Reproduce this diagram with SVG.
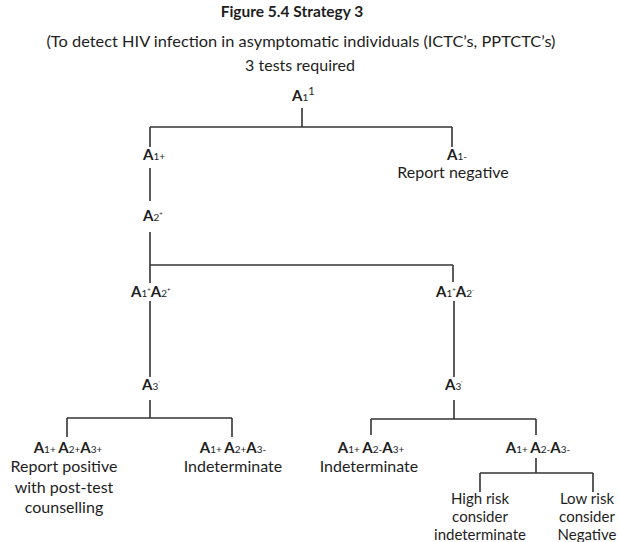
<svg xmlns="http://www.w3.org/2000/svg" width="619" height="542" viewBox="0 0 619 542">
<style>
text{font-family:Lato,"Open Sans","Liberation Sans",sans-serif;fill:#1e1e1e;font-size:16px}
.t{font-weight:bold;font-size:15.5px}
.a{font-weight:bold;font-size:15px}
.s{font-size:10px;font-weight:normal}
.m{text-anchor:middle}
.r{font-size:15px}
.c line{stroke:#333;stroke-width:1.6;fill:none}
</style>
<rect width="619" height="542" fill="#fff"/>
<g id="title">
<text class="t m" x="292" y="17">Figure 5.4 Strategy 3</text>
<text class="m" x="301" y="47" textLength="509" lengthAdjust="spacingAndGlyphs">(To detect HIV infection in asymptomatic individuals (ICTC’s, PPTCTC’s)</text>
<text class="m" x="300" y="71">3 tests required</text>
</g>
<g class="c" id="connectors">
<line x1="302" y1="108" x2="302" y2="127"/>
<line x1="150" y1="127" x2="452" y2="127"/>
<line x1="150" y1="127" x2="150" y2="147"/>
<line x1="452" y1="127" x2="452" y2="147"/>
<line x1="150" y1="168" x2="150" y2="201"/>
<line x1="150" y1="232" x2="150" y2="283"/>
<line x1="150" y1="265" x2="453" y2="265"/>
<line x1="453" y1="265" x2="453" y2="282"/>
<line x1="150" y1="301" x2="150" y2="377"/>
<line x1="454" y1="301" x2="454" y2="377"/>
<line x1="150" y1="400" x2="150" y2="418"/>
<line x1="67" y1="418" x2="232" y2="418"/>
<line x1="67" y1="418" x2="67" y2="437"/>
<line x1="232" y1="418" x2="232" y2="437"/>
<line x1="454" y1="400" x2="454" y2="419"/>
<line x1="371" y1="419" x2="536" y2="419"/>
<line x1="371" y1="419" x2="371" y2="435"/>
<line x1="536" y1="419" x2="536" y2="435"/>
<line x1="536" y1="458" x2="536" y2="473"/>
<line x1="480" y1="473" x2="593" y2="473"/>
<line x1="480" y1="473" x2="480" y2="492"/>
<line x1="593" y1="473" x2="593" y2="492"/>
</g>
<g id="n-a1">
<text x="292" y="101"><tspan class="a">A</tspan><tspan class="s">1</tspan><tspan font-size="11" dy="-6">1</tspan></text>
</g>
<g id="n-a1pos">
<text x="143" y="160"><tspan class="a">A</tspan><tspan class="s">1+</tspan></text>
</g>
<g id="n-a1neg">
<text x="447" y="160"><tspan class="a">A</tspan><tspan class="s">1-</tspan></text>
<text class="m" x="453" y="178">Report negative</text>
</g>
<g id="n-a2">
<text x="143" y="221"><tspan class="a">A</tspan><tspan class="s">2</tspan><tspan font-size="6" dy="-5">+</tspan></text>
</g>
<g id="n-a1a2pos">
<text x="131" y="297"><tspan class="a">A</tspan><tspan class="s">1</tspan><tspan font-size="6" dy="-5">+</tspan><tspan class="a" dy="5">A</tspan><tspan class="s">2</tspan><tspan font-size="6" dy="-5">+</tspan></text>
</g>
<g id="n-a1a2neg">
<text x="436" y="297"><tspan class="a">A</tspan><tspan class="s">1</tspan><tspan font-size="6" dy="-5">+</tspan><tspan class="a" dy="5">A</tspan><tspan class="s">2</tspan><tspan font-size="6" dy="-5">-</tspan></text>
</g>
<g id="n-a3-left">
<text x="142" y="390"><tspan class="a">A</tspan><tspan class="s">3</tspan><tspan font-size="6" dy="-5">'</tspan></text>
</g>
<g id="n-a3-right">
<text x="445" y="390"><tspan class="a">A</tspan><tspan class="s">3</tspan><tspan font-size="6" dy="-5">'</tspan></text>
</g>
<g id="n-ppp">
<text class="m" x="68" y="453"><tspan class="a">A</tspan><tspan class="s">1+ </tspan><tspan class="a">A</tspan><tspan class="s">2+</tspan><tspan class="a">A</tspan><tspan class="s">3+</tspan></text>
<text class="m" x="64" y="472">Report positive</text>
<text class="m" x="64" y="493">with post-test</text>
<text class="m" x="64" y="513">counselling</text>
</g>
<g id="n-ppn">
<text class="m" x="233" y="453"><tspan class="a">A</tspan><tspan class="s">1+ </tspan><tspan class="a">A</tspan><tspan class="s">2+</tspan><tspan class="a">A</tspan><tspan class="s">3-</tspan></text>
<text class="m" x="233" y="472">Indeterminate</text>
</g>
<g id="n-pnp">
<text class="m" x="371" y="453"><tspan class="a">A</tspan><tspan class="s">1+ </tspan><tspan class="a">A</tspan><tspan class="s">2-</tspan><tspan class="a">A</tspan><tspan class="s">3+</tspan></text>
<text class="m" x="369" y="472">Indeterminate</text>
</g>
<g id="n-pnn">
<text class="m" x="538" y="453"><tspan class="a">A</tspan><tspan class="s">1+ </tspan><tspan class="a">A</tspan><tspan class="s">2-</tspan><tspan class="a">A</tspan><tspan class="s">3-</tspan></text>
</g>
<g id="n-high">
<text class="m r" x="480" y="504">High risk</text>
<text class="m r" x="480" y="522">consider</text>
<text class="m r" x="480" y="540">indeterminate</text>
</g>
<g id="n-low">
<text class="m r" x="587" y="504">Low risk</text>
<text class="m r" x="587" y="522">consider</text>
<text class="m r" x="587" y="540">Negative</text>
</g>
</svg>
